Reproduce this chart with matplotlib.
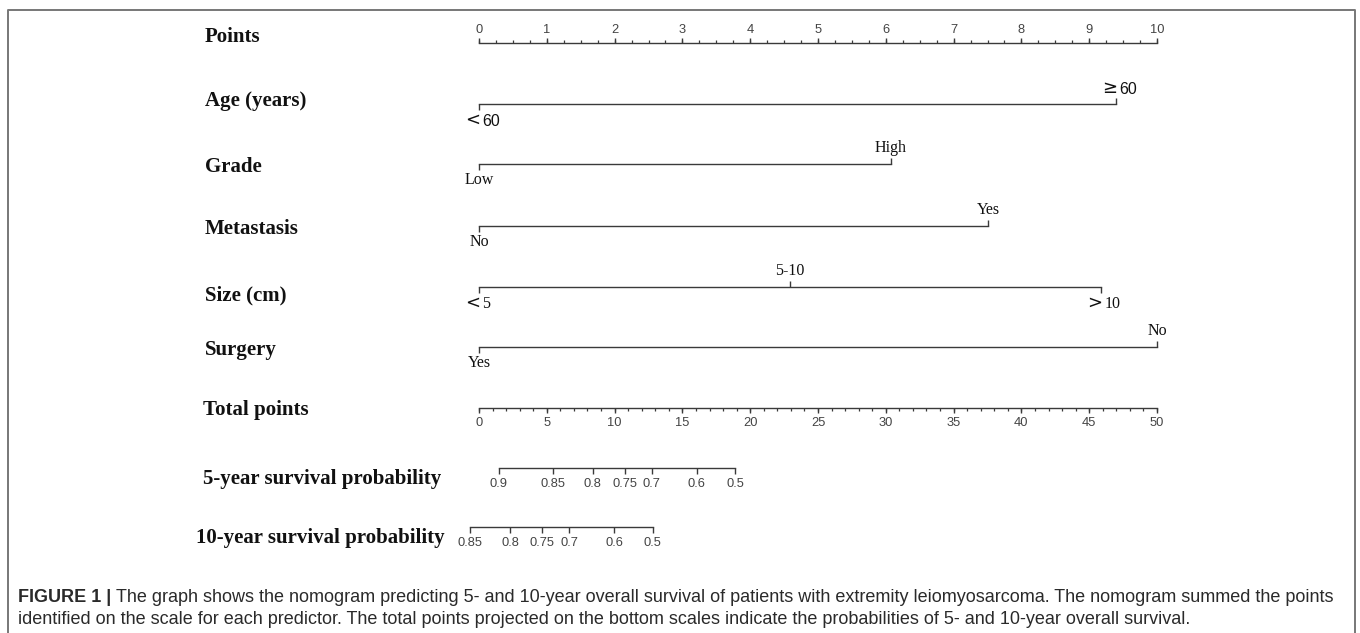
import numpy as np
import matplotlib.pyplot as plt

# ---- data ----
points_ticks = np.arange(0, 11)
points_minor = np.arange(0, 10.01, 0.25)
total_ticks = np.arange(0, 51, 5)
total_minor = np.arange(0, 51, 1)

row_names = ["Points", "Age (years)", "Grade", "Metastasis", "Size (cm)", "Surgery",
             "Total points", "5-year survival probability", "10-year survival probability"]

age_levels = ["< 60", "\u2265 60"]
age_points = [0, 9.4]
grade_levels = ["Low", "High"]
grade_points = [0, 6.07]
metastasis_levels = ["No", "Yes"]
metastasis_points = [0, 7.51]
size_levels = ["<5", "5-10", ">10"]
size_points = [0, 4.59, 9.18]
surgery_levels = ["Yes", "No"]
surgery_points = [0, 10]

surv5_labels = ["0.9", "0.85", "0.8", "0.75", "0.7", "0.6", "0.5"]
surv5_total = [1.47, 5.46, 8.39, 10.77, 12.74, 16.05, 18.88]
surv10_labels = ["0.85", "0.8", "0.75", "0.7", "0.6", "0.5"]
surv10_total = [-0.64, 2.31, 4.67, 6.66, 9.98, 12.81]

caption_bold = "FIGURE 1 | "
caption_line1 = ("The graph shows the nomogram predicting 5- and 10-year overall survival "
                 "of patients with extremity leiomyosarcoma. The nomogram summed the points")
caption_line2 = ("identified on the scale for each predictor. The total points projected on the "
                 "bottom scales indicate the probabilities of 5- and 10-year overall survival.")

# ---- layout (pixels) ----
W, H = 1360, 633
X0_PX, PT_PX = 479, 67.8          # pixel of 0 points, pixels per point
TOTAL_MAX, POINTS_MAX = 50, 10
label_y = [37, 101, 167, 229, 295, 350, 410, 479, 538]
label_x = [205, 205, 205, 205, 205, 205, 203, 203, 196]
line_y = {"points": 43, "age": 104, "grade": 164, "meta": 226, "size": 287,
          "surgery": 347, "total": 408, "s5": 468, "s10": 527}

LINE_C = "#3a3a3a"
TICK_C = "#444444"
SERIF = ["Liberation Serif", "DejaVu Serif"]
SANS = ["Liberation Sans", "DejaVu Sans"]
NARROW = ["Liberation Sans Narrow", "Liberation Sans", "DejaVu Sans"]
SYMBOLS = ("<", ">", "\u2265")


def px(x):
    return (x - X0_PX) / PT_PX


fig = plt.figure(figsize=(W / 100, H / 100), dpi=100)
ax = fig.add_axes([0, 0, 1, 1])
ax.set_xlim(px(0), px(W))
ax.set_ylim(H, 0)
ax.axis("off")

# frame around the figure panel
ax.plot([px(8), px(8), px(1355), px(1355)], [H + 5, 9.5, 9.5, H + 5],
        color="#777777", lw=1.4, solid_capstyle="butt")

for name, y, x in zip(row_names, label_y, label_x):
    ax.text(px(x), y, name, family=SERIF, weight="bold", fontsize=15,
            ha="left", va="center", color="#111111")


def scale(pos, labels, y, major_len, minor_pos=None, minor_len=0, up=True, off=14):
    sgn = -1 if up else 1
    ax.plot([min(pos), max(pos)], [y, y], color=LINE_C, lw=1.0)
    if minor_pos is not None:
        ax.vlines(minor_pos, y, y + sgn * minor_len, color=LINE_C, lw=0.9)
    ax.vlines(pos, y, y + sgn * major_len, color=LINE_C, lw=1.0)
    for p, lab in zip(pos, labels):
        ax.text(p, y + sgn * off, lab, family=SANS, fontsize=9.3, color=TICK_C,
                ha="center", va="center")


# Points axis
scale(points_ticks, [str(t) for t in points_ticks], line_y["points"], 5,
      points_minor, 3, up=True, off=13)

# Total points axis (converted onto the points scale)
tconv = POINTS_MAX / TOTAL_MAX
scale(total_ticks * tconv, [str(t) for t in total_ticks], line_y["total"], 5,
      total_minor * tconv, 3, up=False, off=15)

# survival scales
scale(np.array(surv5_total) * tconv, surv5_labels, line_y["s5"], 6, up=False, off=16)
scale(np.array(surv10_total) * tconv, surv10_labels, line_y["s10"], 6, up=False, off=16)


def level_label(p, y, lev, numfam):
    if lev[0] in SYMBOLS:
        rest = lev[1:].strip()
        ax.text(p + px(X0_PX + 1), y, lev[0], family=["DejaVu Sans"], fontsize=13,
                color="#111111", ha="right", va="center")
        ax.text(p + px(X0_PX + 3), y + 1, rest, family=numfam, fontsize=11.5,
                color="#111111", ha="left", va="center")
    else:
        ax.text(p, y, lev, family=SERIF, fontsize=11.5, color="#111111",
                ha="center", va="center")


# categorical predictors
cats = [(age_levels, age_points, "age", NARROW), (grade_levels, grade_points, "grade", SERIF),
        (metastasis_levels, metastasis_points, "meta", SERIF),
        (size_levels, size_points, "size", SERIF),
        (surgery_levels, surgery_points, "surgery", SERIF)]
for levels, pts, key, numfam in cats:
    y = line_y[key]
    ax.plot([min(pts), max(pts)], [y, y], color=LINE_C, lw=1.0)
    for i, (lev, p) in enumerate(zip(levels, pts)):
        below = i % 2 == 0
        sgn = 1 if below else -1
        ax.vlines(p, y, y + sgn * 6, color=LINE_C, lw=1.0)
        level_label(p, y + sgn * 16, lev, numfam)

# caption
fig.canvas.draw()
rend = fig.canvas.get_renderer()
CAP_FS = 13
t_b = ax.text(px(18), 598, caption_bold, family=SANS, weight="bold", fontsize=CAP_FS,
              color="#2a2a2a", ha="left", va="center")
bb = t_b.get_window_extent(rend)
x_after = ax.transData.inverted().transform((bb.x1, 0))[0]
ax.text(x_after, 598, caption_line1, family=SANS, fontsize=CAP_FS, color="#2a2a2a",
        ha="left", va="center")
ax.text(px(18), 620, caption_line2, family=SANS, fontsize=CAP_FS, color="#2a2a2a",
        ha="left", va="center")

fig.savefig("out.png", dpi=100)
